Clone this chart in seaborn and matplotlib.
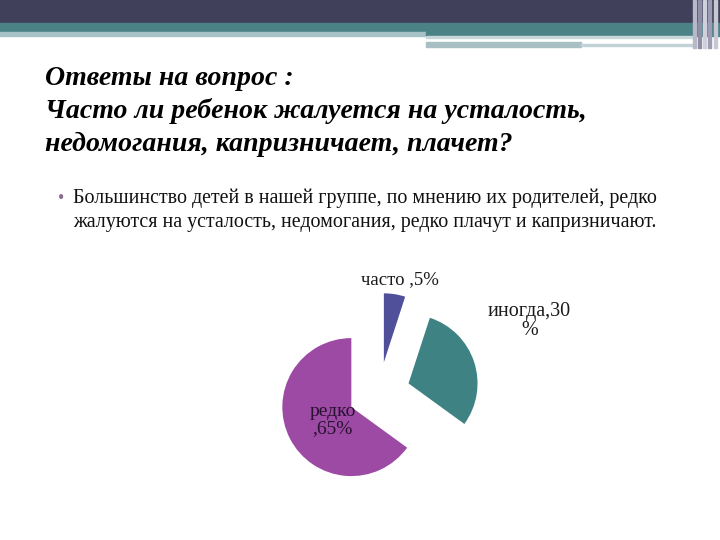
import matplotlib
matplotlib.use("Agg")
import matplotlib.pyplot as plt
from matplotlib.patches import Rectangle
import seaborn as sns

sns.set_theme(style="white")
plt.rcParams['font.family'] = ['Liberation Serif', 'DejaVu Serif']

# ---- data ----
categories = ["часто", "иногда", "редко"]
values = [5, 30, 65]
slice_labels = ["часто ,5%", "иногда,30\n%", "редко\n,65%"]
colors = ["#50509a", "#3f8284", "#9c4aa4"]
title_lines = ["Ответы на вопрос :",
               "Часто ли ребенок жалуется на усталость,",
               "недомогания, капризничает, плачет?"]
bullet_lines = ["Большинство детей в нашей группе, по мнению их родителей, редко",
                "жалуются на усталость, недомогания, редко плачут и капризничают."]

W, H = 720, 540
fig = plt.figure(figsize=(7.2, 5.4), dpi=100)
fig.patch.set_facecolor("white")

def px_rect(x, y, w, h, color):
    # x, y from top-left in pixels
    fig.patches.append(Rectangle((x / W, 1 - (y + h) / H), w / W, h / H,
                                 transform=fig.transFigure, color=color, zorder=0))

# header bands
px_rect(0, 0, 720, 23, "#40405a")
px_rect(0, 23, 720, 9, "#4a8286")
px_rect(0, 32, 426, 4, "#a6c2c6")
px_rect(426, 32, 294, 4, "#4a8286")
px_rect(426, 36, 270, 2, "#c8d8da")
px_rect(426, 42, 155, 5, "#a8bfc4")
px_rect(581, 44, 115, 2, "#c2d2d6")
for xs, c in [(693, "#b8b8c8"), (698, "#8e8ea6"), (703, "#d0d0dc"), (708, "#9c9cb2"), (714, "#c8c8d4")]:
    px_rect(xs, 0, 3, 48, c)

# title
for i, line in enumerate(title_lines):
    fig.text(45 / W, 1 - (85 + i * 33) / H, line, fontsize=20.1, fontweight="bold",
             fontstyle="italic", color="black", ha="left", va="baseline")

# bullet
fig.text(58 / W, 1 - 203 / H, "•", fontsize=13, color="#8a6a92", ha="left", va="baseline")
for i, line in enumerate(bullet_lines):
    fig.text(73 / W, 1 - (203 + i * 24) / H, line, fontsize=14.4, color="#111111",
             ha="left", va="baseline")

# pie
cx, cy, r = 379, 393, 69
half = 2 * r
ax = fig.add_axes([(cx - half) / W, (H - cy - half) / H, 2 * half / W, 2 * half / H])
ax.pie(values, colors=colors, startangle=90, counterclock=False,
       explode=[0.45, 0.45, 0.45], radius=1,
       wedgeprops=dict(linewidth=0))
ax.set_xlim(-2, 2)
ax.set_ylim(-2, 2)
ax.set_aspect("equal")
ax.axis("off")

label_pos = [(0.30, 1.65), (2.18, 1.05), (-0.67, -0.39)]
label_col = ["#1a1a1a", "#1a1a1a", "#2a1030"]
label_size = [13.5, 14.5, 14]
for (lx, ly), txt, c, fs in zip(label_pos, slice_labels, label_col, label_size):
    ax.text(lx, ly, txt, ha="center", va="center", fontsize=fs, color=c,
            linespacing=1.0, clip_on=False)

fig.savefig("out.png", dpi=100, facecolor="white")
